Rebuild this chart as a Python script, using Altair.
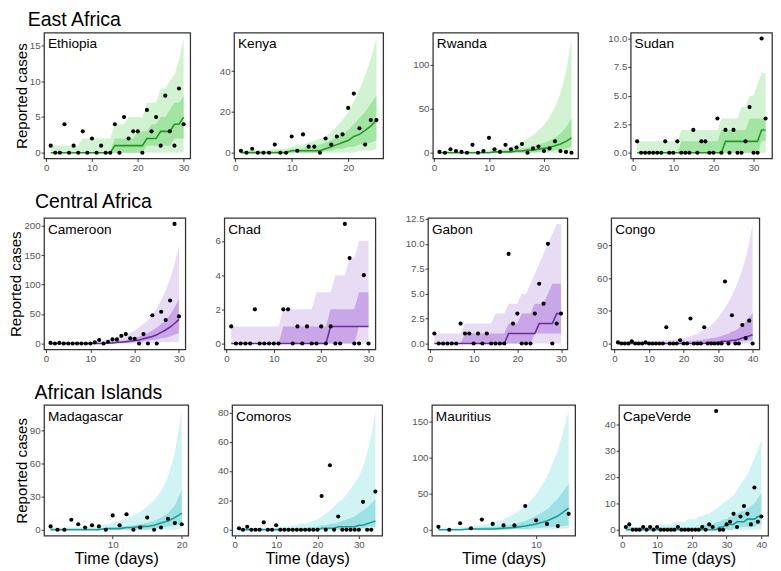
import altair as alt
import pandas as pd

# ---------------- data ----------------
ethiopia_obs  = [1,0,0,4,0,1,0,3,0,2,0,1,0,0,4,0,5,2,3,3,0,6,3,5,1,8,3,1,9,4]
ethiopia_med  = [0,0,0,0,0,0,0,0,0,0,0,0,0,0,1,1,1,1,1,1,1,2,2,2,3,3,3,4,4,5]
ethiopia_lo50 = [0,0,0,0,0,0,0,0,0,0,0,0,0,0,0,0,0,0,0,0,0,1,1,1,1,1,1,2,2,2]
ethiopia_hi50 = [0,0,0,0,0,0,0,0,0,0,0,0,0,0,2,2,2,2,2,3,3,3,4,4,5,5,6,7,7,8]
ethiopia_lo95 = [0,0,0,0,0,0,0,0,0,0,0,0,0,0,0,0,0,0,0,0,0,0,0,0,0,0,0,0,0,0]
ethiopia_hi95 = [1,1,1,1,1,1,1,2,2,2,2,2,2,2,4,4,4,5,5,5,5,7,7,7,9,9,10,11,13,16]

kenya_obs  = [1,0,2,0,0,0,4,0,0,8,1,9,3,3,0,7,4,8,9,22,29,12,4,16,16]
kenya_med  = [0,0,0,0,0,0,0,0,0,1,1,1,1,1,1,2,3,4,5,6,8,9,11,13,16]
kenya_lo50 = [0,0,0,0,0,0,0,0,0,0,0,0,0,0,0,1,1,2,2,3,3,4,4,5,6]
kenya_hi50 = [1,1,1,1,1,1,1,1,1,2,2,2,3,3,4,5,6,8,9,11,14,17,20,24,28]
kenya_lo95 = [0,0,0,0,0,0,0,0,0,0,0,0,0,0,0,0,0,0,0,0,0,1,1,1,2]
kenya_hi95 = [1,1,1,1,1,1,2,2,2,3,4,4,5,6,7,8,10,13,16,20,25,31,38,46,56]

rwanda_obs  = [1,0,4,2,1,0,9,0,2,17,4,1,9,4,6,10,0,5,7,2,5,13,2,1,0]
rwanda_med  = [0,0,0,0,0,0,0,0,0,0,1,1,1,1,2,2,3,3,4,5,6,8,10,13,17]
rwanda_lo50 = [0,0,0,0,0,0,0,0,0,0,0,0,0,0,0,0,0,0,1,1,2,3,4,5,7]
rwanda_hi50 = [1,1,1,1,1,1,1,1,1,1,2,2,3,3,4,5,6,7,9,11,14,17,22,29,39]
rwanda_lo95 = [0,0,0,0,0,0,0,0,0,0,0,0,0,0,0,0,0,0,0,0,0,0,0,1,2]
rwanda_hi95 = [2,2,2,2,2,2,2,2,3,3,4,5,6,7,9,12,16,20,26,32,40,52,68,92,130]

sudan_obs  = [1,0,0,0,0,0,0,1,0,0,1,0,0,0,2,0,1,1,0,0,3,0,2,0,2,0,0,1,4,0,0,10,3]
sudan_med  = [0,0,0,0,0,0,0,0,0,0,0,0,0,0,0,0,0,0,0,0,0,0,1,1,1,1,1,1,1,1,1,2,2]
sudan_lo50 = [0,0,0,0,0,0,0,0,0,0,0,0,0,0,0,0,0,0,0,0,0,0,0,0,0,0,0,0,0,0,0,1,1]
sudan_hi50 = [0,0,0,0,0,0,0,0,0,0,0,1,1,1,1,1,1,1,1,1,1,2,2,2,2,2,2,2,3,3,3,3,3]
sudan_lo95 = [0,0,0,0,0,0,0,0,0,0,0,0,0,0,0,0,0,0,0,0,0,0,0,0,0,0,0,0,0,0,0,0,0]
sudan_hi95 = [1,1,1,1,1,1,1,1,1,1,1,2,2,2,2,2,2,2,2,2,2,3,3,3,3,3,4,4,5,5,6,7,7]

cameroon_obs  = [1,0,1,0,0,0,0,0,0,0,2,6,0,3,7,7,13,16,9,8,0,16,0,48,0,54,40,73,203,46]
cameroon_med  = [0,0,0,0,0,0,0,0,0,0,0,0,0,1,1,2,2,3,4,5,6,8,10,12,15,19,23,28,34,41]
cameroon_lo50 = [0,0,0,0,0,0,0,0,0,0,0,0,0,0,0,0,1,1,2,2,3,4,5,6,7,9,10,12,15,18]
cameroon_hi50 = [1,1,1,1,1,1,1,1,1,1,1,1,2,2,3,4,5,6,8,10,12,15,18,22,27,33,40,49,61,75]
cameroon_lo95 = [0,0,0,0,0,0,0,0,0,0,0,0,0,0,0,0,0,0,0,0,0,0,1,1,1,2,2,2,3,3]
cameroon_hi95 = [2,2,2,2,2,2,2,2,2,2,3,4,5,6,8,10,12,15,18,22,27,33,40,49,60,74,90,110,135,167]

chad_obs  = [1,0,0,0,0,2,0,0,0,0,0,2,2,0,1,0,1,0,0,1,0,1,0,0,7,5,0,0,4,0]
chad_med  = [0,0,0,0,0,0,0,0,0,0,0,0,0,0,0,0,0,0,0,0,0,1,1,1,1,1,1,1,1,1]
chad_lo50 = [0,0,0,0,0,0,0,0,0,0,0,0,0,0,0,0,0,0,0,0,0,0,0,0,0,0,0,1,1,1]
chad_hi50 = [0,0,0,0,0,0,0,0,0,0,0,1,1,1,1,1,1,1,1,1,1,2,2,2,2,2,2,3,3,3]
chad_lo95 = [0,0,0,0,0,0,0,0,0,0,0,0,0,0,0,0,0,0,0,0,0,0,0,0,0,0,0,0,0,0]
chad_hi95 = [1,1,1,1,1,1,1,1,1,1,1,2,2,2,2,2,2,2,3,3,3,3,4,4,4,5,5,6,6,6]

gabon_obs  = [1,0,0,0,0,0,2,1,1,0,1,0,1,0,0,0,0,9,2,3,0,0,0,3,6,4,10,0,2,3]
gabon_med  = [0,0,0,0,0,0,0,0,0,0,0,0,0,0,0,0,0,1,1,1,1,1,1,1,2,2,2,2,3,3]
gabon_lo50 = [0,0,0,0,0,0,0,0,0,0,0,0,0,0,0,0,0,0,0,0,0,0,0,1,1,1,1,1,1,1]
gabon_hi50 = [0,0,0,0,0,0,0,1,1,1,1,1,1,1,1,1,1,2,2,2,3,3,3,4,4,4,5,6,6,6]
gabon_lo95 = [0,0,0,0,0,0,0,0,0,0,0,0,0,0,0,0,0,0,0,0,0,0,0,0,0,0,0,0,0,0]
gabon_hi95 = [1,1,1,1,1,1,1,2,2,2,2,2,2,2,3,3,3,4,4,4,5,5,6,7,8,9,10,11,12,12]

congo_obs  = [1,0,0,0,2,0,0,0,1,0,0,0,0,0,15,0,0,0,3,0,0,23,0,0,0,15,0,0,0,0,0,57,0,26,0,0,17,5,21,0]
congo_med  = [0,0,0,0,0,0,0,0,0,0,0,0,0,0,0,0,0,0,0,0,0,0,0,0,0,0,1,1,1,1,2,2,2,3,3,4,5,6,7,8]
congo_lo50 = [0,0,0,0,0,0,0,0,0,0,0,0,0,0,0,0,0,0,0,0,0,0,0,0,0,0,0,0,0,0,0,0,0,1,1,2,2,2,3,3]
congo_hi50 = [1,1,1,1,1,1,1,1,1,1,1,1,1,1,1,1,1,1,1,1,2,2,2,3,3,4,4,5,5,6,7,8,9,11,12,14,17,20,24,28]
congo_lo95 = [0,0,0,0,0,0,0,0,0,0,0,0,0,0,0,0,0,0,0,0,0,0,0,0,0,0,0,0,0,0,0,0,0,0,0,0,0,0,0,0]
congo_hi95 = [2,2,2,2,2,2,2,2,2,2,2,2,2,3,3,3,4,4,5,5,6,7,8,9,11,13,15,17,20,24,28,33,38,44,51,59,68,79,93,110]

madagascar_obs  = [3,0,0,9,5,2,4,3,0,13,4,14,0,2,11,0,2,10,6,5]
madagascar_med  = [0,0,0,0,0,0,0,0,1,1,1,2,2,3,3,4,6,8,11,15]
madagascar_lo50 = [0,0,0,0,0,0,0,0,0,0,0,0,0,0,0,1,2,3,4,6]
madagascar_hi50 = [1,1,1,1,1,1,1,1,2,2,3,3,4,5,6,8,11,15,22,36]
madagascar_lo95 = [0,0,0,0,0,0,0,0,0,0,0,0,0,0,0,0,0,0,0,1]
madagascar_hi95 = [2,2,2,2,2,3,3,4,5,6,8,10,13,16,21,27,35,48,70,108]

comoros_obs  = [1,0,2,0,0,0,5,0,0,3,0,0,0,0,0,0,0,0,0,0,23,0,44,0,9,0,0,0,0,0,19,0,0,26]
comoros_med  = [0,0,0,0,0,0,0,0,0,0,0,0,0,0,0,0,0,0,0,0,1,1,1,1,2,2,2,2,2,3,3,4,5,6]
comoros_lo50 = [0,0,0,0,0,0,0,0,0,0,0,0,0,0,0,0,0,0,0,0,0,0,0,0,0,0,0,0,1,1,1,2,2,2]
comoros_hi50 = [1,1,1,1,1,1,1,1,1,1,1,1,1,1,1,1,1,2,2,2,3,3,4,4,5,6,7,8,9,11,13,15,18,21]
comoros_lo95 = [0,0,0,0,0,0,0,0,0,0,0,0,0,0,0,0,0,0,0,0,0,0,0,0,0,0,0,0,0,0,0,0,0,0]
comoros_hi95 = [1,1,1,1,1,1,1,1,1,1,2,2,2,3,3,4,4,5,6,7,9,11,13,16,19,21,24,28,32,36,43,52,64,81]

mauritius_obs  = [4,0,9,2,14,8,6,6,33,13,8,5,22]
mauritius_med  = [0,0,0,1,1,1,2,3,5,8,12,19,30]
mauritius_lo50 = [0,0,0,0,0,0,0,1,1,2,3,4,6]
mauritius_hi50 = [1,1,1,2,3,4,5,8,12,19,28,43,64]
mauritius_lo95 = [0,0,0,0,0,0,0,0,0,0,0,1,2]
mauritius_hi95 = [1,2,3,4,6,10,14,22,32,49,73,110,165]

capeverde_obs  = [1,2,0,0,0,1,0,1,0,1,0,0,0,0,0,1,0,0,0,0,0,0,1,0,2,1,45,0,0,2,3,6,1,5,9,6,2,16,3,5]
capeverde_med  = [0,0,0,0,0,0,0,0,0,0,0,0,0,0,0,0,0,0,0,0,0,0,0,0,0,0,0,1,1,2,2,2,3,3,3,4,4,4,5,5]
capeverde_lo50 = [0,0,0,0,0,0,0,0,0,0,0,0,0,0,0,0,0,0,0,0,0,0,0,0,0,0,0,0,0,0,0,0,1,1,1,1,1,1,2,2]
capeverde_hi50 = [1,1,1,1,1,1,1,1,1,1,1,1,1,1,1,1,1,1,1,1,1,1,2,2,2,2,3,3,4,4,5,5,6,7,7,8,9,10,12,14]
capeverde_lo95 = [0,0,0,0,0,0,0,0,0,0,0,0,0,0,0,0,0,0,0,0,0,0,0,0,0,0,0,0,0,0,0,0,0,0,0,0,0,0,0,0]
capeverde_hi95 = [1,1,1,1,1,1,1,1,1,1,2,2,2,2,3,3,3,3,4,4,4,5,5,6,6,7,8,9,10,11,12,13,15,17,19,21,24,27,30,34]

region_titles = ["East Africa", "Central Africa", "African Islands"]
x_breaks = [0, 10, 20, 30, 40]

# colours per region: (outer band, inner band, median line)
region_colors = [
    ("#d2f3d2", "#a2e4a2", "#1f9a1f"),
    ("#e8dcf4", "#c8a6e8", "#6a2c9e"),
    ("#d0f3f3", "#9ce2e2", "#1a9a9a"),
]

panels_spec = [
    [("Ethiopia", ethiopia_obs, ethiopia_med, ethiopia_lo50, ethiopia_hi50, ethiopia_lo95, ethiopia_hi95, [0, 5, 10, 15], "d", 150),
     ("Kenya", kenya_obs, kenya_med, kenya_lo50, kenya_hi50, kenya_lo95, kenya_hi95, [0, 20, 40], "d", 153),
     ("Rwanda", rwanda_obs, rwanda_med, rwanda_lo50, rwanda_hi50, rwanda_lo95, rwanda_hi95, [0, 50, 100], "d", 149),
     ("Sudan", sudan_obs, sudan_med, sudan_lo50, sudan_hi50, sudan_lo95, sudan_hi95, [0, 2.5, 5, 7.5, 10], ".1f", 145)],
    [("Cameroon", cameroon_obs, cameroon_med, cameroon_lo50, cameroon_hi50, cameroon_lo95, cameroon_hi95, [0, 50, 100, 150, 200], "d", 145),
     ("Chad", chad_obs, chad_med, chad_lo50, chad_hi50, chad_lo95, chad_hi95, [0, 2, 4, 6], "d", 155),
     ("Gabon", gabon_obs, gabon_med, gabon_lo50, gabon_hi50, gabon_lo95, gabon_hi95, [0, 2.5, 5, 7.5, 10, 12.5], ".1f", 143),
     ("Congo", congo_obs, congo_med, congo_lo50, congo_hi50, congo_lo95, congo_hi95, [0, 30, 60, 90], "d", 152)],
    [("Madagascar", madagascar_obs, madagascar_med, madagascar_lo50, madagascar_hi50, madagascar_lo95, madagascar_hi95, [0, 30, 60, 90], "d", 148),
     ("Comoros", comoros_obs, comoros_med, comoros_lo50, comoros_hi50, comoros_lo95, comoros_hi95, [0, 20, 40, 60, 80], "d", 154),
     ("Mauritius", mauritius_obs, mauritius_med, mauritius_lo50, mauritius_hi50, mauritius_lo95, mauritius_hi95, [0, 50, 100, 150], "d", 147),
     ("CapeVerde", capeverde_obs, capeverde_med, capeverde_lo50, capeverde_hi50, capeverde_lo95, capeverde_hi95, [0, 10, 20, 30, 40], "d", 153)],
]

row_heights = [129, 135, 134]
row_title_dx = [14, 27, 21]

FONT = "Liberation Sans"


def panel(spec, colors, first, bottom, height):
    name, obs, med, lo50, hi50, lo95, hi95, yticks, yfmt, width = spec
    n = len(obs)
    df = pd.DataFrame({
        "day": list(range(1, n + 1)),
        "obs": obs, "med": med, "lo50": lo50, "hi50": hi50,
        "lo95": lo95, "hi95": hi95,
    })
    # ggplot-like 5% expansion of the data range
    xpad = 0.05 * (n - 1)
    xdom = [1 - xpad, n + xpad]
    ymax = max(max(obs), max(hi95))
    ydom = [-0.05 * ymax, ymax * 1.05]
    xvals = [v for v in x_breaks if xdom[0] <= v <= xdom[1]]

    xaxis = alt.Axis(values=xvals, format="d",
                     title="Time (days)" if bottom else None,
                     titleFontSize=16.5, titlePadding=2)
    yaxis = alt.Axis(values=yticks, format=yfmt,
                     title="Reported cases" if first else None,
                     titleFontSize=15.5, titlePadding=0)
    xs = alt.Scale(domain=xdom, nice=False, zero=False)
    ys = alt.Scale(domain=ydom, nice=False, zero=False)

    def X():
        return alt.X("day:Q", scale=xs, axis=xaxis)

    def Y(f):
        return alt.Y(f + ":Q", scale=ys, axis=yaxis)

    base = alt.Chart(df)
    outer = base.mark_area(color=colors[0], opacity=1).encode(x=X(), y=Y("lo95"), y2="hi95:Q")
    inner = base.mark_area(color=colors[1], opacity=1).encode(x=X(), y=Y("lo50"), y2="hi50:Q")
    line = base.mark_line(color=colors[2], strokeWidth=1.6).encode(x=X(), y=Y("med"))
    pts = base.mark_circle(color="black", size=18, opacity=1).encode(x=X(), y=Y("obs"))
    label = alt.Chart(pd.DataFrame({"label": [name]})).mark_text(
        align="left", baseline="top", fontSize=14, font=FONT, color="black"
    ).encode(x=alt.value(4), y=alt.value(5), text="label:N")
    return alt.layer(outer, inner, line, pts, label).properties(width=width, height=height)


rows = []
for r, specs in enumerate(panels_spec):
    charts = [panel(s, region_colors[r], i == 0, r == 2, row_heights[r]) for i, s in enumerate(specs)]
    row = alt.hconcat(*charts, spacing=28).properties(
        title=alt.TitleParams(region_titles[r], anchor="start", offset=2, dx=row_title_dx[r],
                              fontSize=20, font=FONT, fontWeight="normal", color="black")
    )
    rows.append(row)

chart = alt.vconcat(*rows, spacing=19).properties(
    padding={"left": 0, "top": -5, "right": 0, "bottom": 0}
).configure_view(
    stroke="#333333", strokeWidth=1.3
).configure_axis(
    grid=False, domain=False, tickColor="#333333", tickSize=3,
    labelColor="#555555", labelFontSize=10, labelFont=FONT, labelPadding=1,
    titleFont=FONT, titleFontWeight="normal", titleColor="black"
)

chart.save("out.html", embed_options={"renderer": "svg", "actions": False})
